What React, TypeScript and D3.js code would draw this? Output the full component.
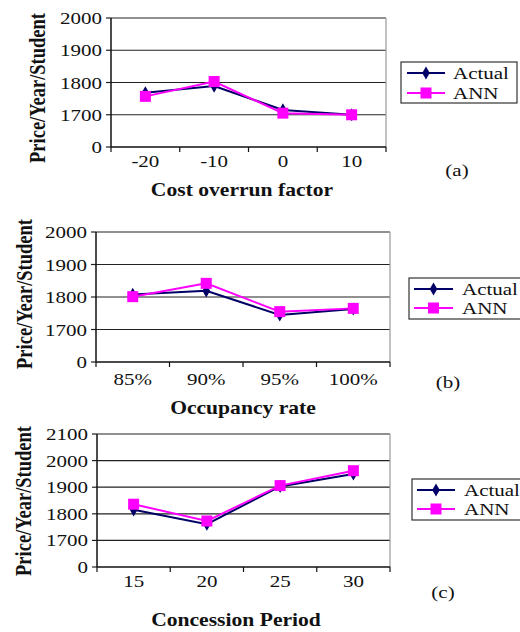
import React from "react";
import * as d3 from "d3";

const costCategories = ["-20", "-10", "0", "10"];
const costActual = [1768, 1789, 1715, 1699];
const costANN = [1757, 1803, 1705, 1698];

const occCategories = ["85%", "90%", "95%", "100%"];
const occActual = [1808, 1819, 1745, 1763];
const occANN = [1801, 1842, 1755, 1765];

const periodCategories = ["15", "20", "25", "30"];
const periodActual = [1815, 1761, 1903, 1950];
const periodANN = [1836, 1773, 1906, 1962];

const ticksAB = [0, 1700, 1800, 1900, 2000];
const ticksC = [0, 1700, 1800, 1900, 2000, 2100];

const seriesNames = ["Actual", "ANN"];
const yTitle = "Price/Year/Student";

const NAVY = "#000066";
const MAGENTA = "#ff00ff";
const FONT = "'Liberation Serif', 'Times New Roman', serif";
const SX = 1.2;

function Txt(props: {
  x: number;
  y: number;
  anchor?: "start" | "middle" | "end";
  size?: number;
  bold?: boolean;
  children: React.ReactNode;
}) {
  return (
    <text
      transform={`translate(${props.x},${props.y}) scale(${SX},1)`}
      textAnchor={props.anchor || "start"}
      fontSize={props.size || 17.5}
      fontWeight={props.bold ? "bold" : "normal"}
      fontFamily={FONT}
      fill="#111"
    >
      {props.children}
    </text>
  );
}

type PanelProps = {
  categories: string[];
  actual: number[];
  ann: number[];
  ticks: number[];
  left: number;
  right: number;
  top: number;
  bottom: number;
  xTitle: string;
  xTitleX: number;
  xTitleY: number;
  tickLabelY: number;
  yTitleX: number;
  yTitleY: number;
  legend: { x: number; y: number; w: number; h: number; lineX1: number; lineX2: number; textX: number; y1: number; y2: number };
  tag: string;
  tagX: number;
  tagY: number;
};

function Panel(p: PanelProps) {
  const x = d3.scaleBand<string>().domain(p.categories).range([p.left, p.right]);
  const maxT = p.ticks[p.ticks.length - 1];
  const step = (p.bottom - p.top) / (p.ticks.length - 1);
  const y = d3
    .scaleLinear()
    .domain([0, p.ticks[1], maxT])
    .range([p.bottom, p.bottom - step, p.top]);
  const cx = (c: string) => (x(c) as number) + x.bandwidth() / 2;
  const line = d3
    .line<number>()
    .x((_, i) => cx(p.categories[i]))
    .y((d) => y(d));
  const diamond = d3.symbol().type(d3.symbolDiamond).size(50)();
  const bounds = [...p.categories.map((c) => x(c) as number), p.right];
  const lg = p.legend;
  return (
    <g>
      {p.ticks.map((t) => (
        <g key={t}>
          {t !== 0 && (
            <line x1={p.left} x2={p.right} y1={y(t)} y2={y(t)} stroke="#222" strokeWidth={1.2} />
          )}
          <line x1={p.left - 5} x2={p.left} y1={y(t)} y2={y(t)} stroke="#222" strokeWidth={1.2} />
          <Txt x={p.left - 9} y={y(t) + 6} anchor="end">
            {t}
          </Txt>
        </g>
      ))}
      <line x1={p.right} x2={p.right} y1={p.top} y2={p.bottom} stroke="#999" strokeWidth={1.2} />
      <line x1={p.left} x2={p.left} y1={p.top} y2={p.bottom} stroke="#111" strokeWidth={1.5} />
      <line x1={p.left} x2={p.right} y1={p.bottom} y2={p.bottom} stroke="#111" strokeWidth={1.5} />
      {bounds.map((b, i) => (
        <line key={i} x1={b} x2={b} y1={p.bottom} y2={p.bottom + 5} stroke="#111" strokeWidth={1.2} />
      ))}
      {p.categories.map((c) => (
        <Txt key={c} x={cx(c)} y={p.tickLabelY} anchor="middle">
          {c}
        </Txt>
      ))}
      <path d={line(p.actual) || ""} fill="none" stroke={NAVY} strokeWidth={2} />
      {p.actual.map((v, i) => (
        <path key={i} d={diamond || ""} transform={`translate(${cx(p.categories[i])},${y(v)})`} fill={NAVY} />
      ))}
      <path d={line(p.ann) || ""} fill="none" stroke={MAGENTA} strokeWidth={2} />
      {p.ann.map((v, i) => (
        <rect key={i} x={cx(p.categories[i]) - 5.5} y={y(v) - 5.5} width={11} height={11} fill={MAGENTA} />
      ))}
      <Txt x={p.xTitleX} y={p.xTitleY} anchor="middle" size={18} bold>
        {p.xTitle}
      </Txt>
      <text
        transform={`translate(${p.yTitleX},${p.yTitleY}) rotate(-90) scale(1,1.2)`}
        textAnchor="middle"
        dy="0.35em"
        fontSize={18.5}
        fontWeight="bold"
        fontFamily={FONT}
        fill="#111"
      >
        {yTitle}
      </text>
      <rect x={lg.x} y={lg.y} width={lg.w} height={lg.h} fill="white" stroke="#333" strokeWidth={1.2} />
      <line x1={lg.lineX1} x2={lg.lineX2} y1={lg.y1} y2={lg.y1} stroke={NAVY} strokeWidth={2} />
      <path d={diamond || ""} transform={`translate(${(lg.lineX1 + lg.lineX2) / 2},${lg.y1})`} fill={NAVY} />
      <Txt x={lg.textX} y={lg.y1 + 6}>
        {seriesNames[0]}
      </Txt>
      <line x1={lg.lineX1} x2={lg.lineX2} y1={lg.y2} y2={lg.y2} stroke={MAGENTA} strokeWidth={2} />
      <rect x={(lg.lineX1 + lg.lineX2) / 2 - 5.5} y={lg.y2 - 5.5} width={11} height={11} fill={MAGENTA} />
      <Txt x={lg.textX} y={lg.y2 + 6}>
        {seriesNames[1]}
      </Txt>
      <Txt x={p.tagX} y={p.tagY + 6} anchor="middle">
        {p.tag}
      </Txt>
    </g>
  );
}

export default function App() {
  return (
    <svg width={520} height={632} style={{ position: "absolute", left: 0, top: 0, background: "white" }}>
      <rect width={520} height={632} fill="white" />
      <Panel
        categories={costCategories}
        actual={costActual}
        ann={costANN}
        ticks={ticksAB}
        left={111}
        right={386}
        top={18}
        bottom={147}
        xTitle="Cost overrun factor"
        xTitleX={242}
        xTitleY={196}
        tickLabelY={167}
        yTitleX={37}
        yTitleY={88}
        legend={{ x: 401, y: 62, w: 116, h: 41, lineX1: 407, lineX2: 445, textX: 453, y1: 73, y2: 93 }}
        tag="(a)"
        tagX={457}
        tagY={170}
      />
      <Panel
        categories={occCategories}
        actual={occActual}
        ann={occANN}
        ticks={ticksAB}
        left={96}
        right={390}
        top={232}
        bottom={362}
        xTitle="Occupancy rate"
        xTitleX={243}
        xTitleY={414}
        tickLabelY={385}
        yTitleX={24}
        yTitleY={294}
        legend={{ x: 409, y: 278, w: 112, h: 41, lineX1: 414, lineX2: 453, textX: 462, y1: 289, y2: 308 }}
        tag="(b)"
        tagX={448}
        tagY={382}
      />
      <Panel
        categories={periodCategories}
        actual={periodActual}
        ann={periodANN}
        ticks={ticksC}
        left={97}
        right={390}
        top={434}
        bottom={567}
        xTitle="Concession Period"
        xTitleX={236}
        xTitleY={626}
        tickLabelY={587}
        yTitleX={23}
        yTitleY={501}
        legend={{ x: 412, y: 479, w: 110, h: 41, lineX1: 417, lineX2: 455, textX: 464, y1: 490, y2: 509 }}
        tag="(c)"
        tagX={443}
        tagY={592}
      />
    </svg>
  );
}
